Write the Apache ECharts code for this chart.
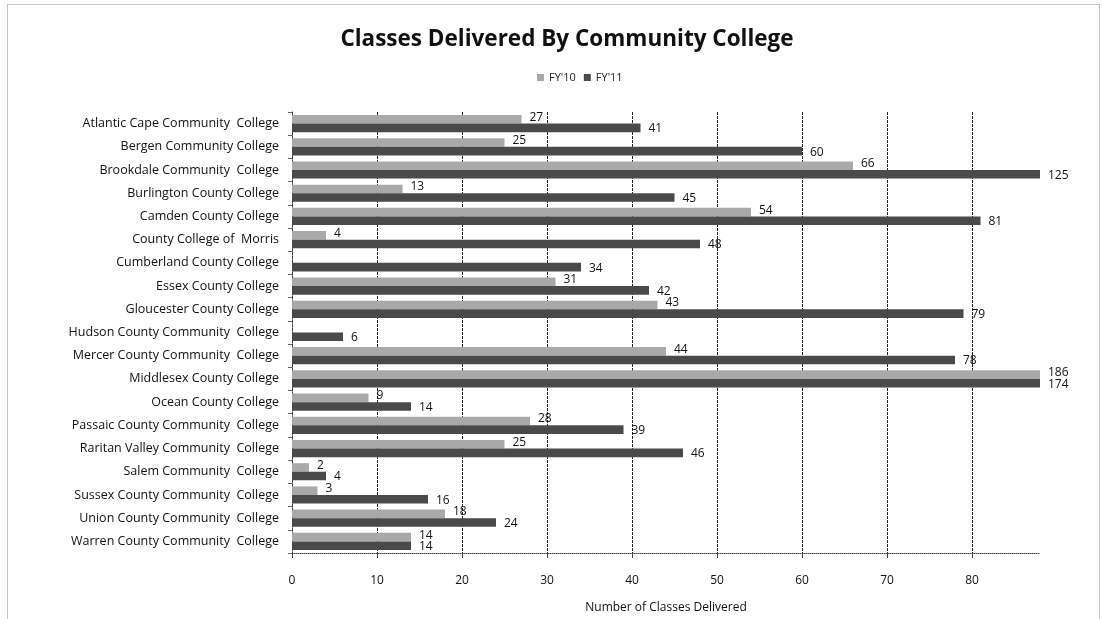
<!DOCTYPE html>
<html>
<head>
<meta charset="utf-8">
<script src="https://cdn.jsdelivr.net/npm/echarts@6/dist/echarts.min.js"></script>
<style>html,body{margin:0;padding:0;background:#fff}#c{width:1103px;height:619px}</style>
</head>
<body>
<div id="c"></div>
<script>
const categories = [
  'Atlantic Cape Community  College',
  'Bergen Community College',
  'Brookdale Community  College',
  'Burlington County College',
  'Camden County College',
  'County College of  Morris',
  'Cumberland County College',
  'Essex County College',
  'Gloucester County College',
  'Hudson County Community  College',
  'Mercer County Community  College',
  'Middlesex County College',
  'Ocean County College',
  'Passaic County Community  College',
  'Raritan Valley Community  College',
  'Salem Community  College',
  'Sussex County Community  College',
  'Union County Community  College',
  'Warren County Community  College'
];
const fy10 = [27, 25, 66, 13, 54, 4, null, 31, 43, null, 44, 186, 9, 28, 25, 2, 3, 18, 14];
const fy11 = [41, 60, 125, 45, 81, 48, 34, 42, 79, 6, 78, 174, 14, 39, 46, 4, 16, 24, 14];
const xTicks = { min: 0, max: 88, interval: 10 };

const FONT = 'Open Sans';
const chart = echarts.init(document.getElementById('c'));
chart.setOption({
  backgroundColor: '#fff',
  animation: false,
  title: {
    text: 'Classes Delivered By Community College',
    left: 562, top: 23, textAlign: 'center',
    textStyle: { fontFamily: FONT, fontSize: 22.5, fontWeight: 'bold', color: '#111' }
  },
  legend: {
    top: 67, left: 532,
    icon: 'rect',
    itemWidth: 7, itemHeight: 7, itemGap: 8,
    textStyle: { fontFamily: FONT, fontSize: 11, color: '#222' },
    data: ["FY'10", "FY'11"]
  },
  graphic: [{
    type: 'rect', shape: { x: 7.5, y: 4.5, width: 1092, height: 640 },
    style: { fill: 'none', stroke: '#888', lineWidth: 1, lineDash: [1, 1] }, silent: true
  }],
  grid: { left: 292, right: 63, top: 112, bottom: 66, containLabel: false },
  xAxis: {
    type: 'value', min: xTicks.min, max: xTicks.max, interval: xTicks.interval,
    name: 'Number of Classes Delivered', nameLocation: 'middle', nameGap: 49,
    nameTextStyle: { fontFamily: FONT, fontSize: 12, color: '#111' },
    axisLine: { show: true, lineStyle: { color: '#444', type: [1, 1] } },
    axisTick: { show: true, length: 5, lineStyle: { color: '#444' } },
    axisLabel: { fontFamily: FONT, fontSize: 12, color: '#111', margin: 22, showMaxLabel: false },
    splitLine: { show: true, showMaxLine: false, lineStyle: { color: '#222', width: 1, type: [3, 1] } }
  },
  yAxis: {
    type: 'category', data: categories, inverse: true,
    axisLine: { show: true, lineStyle: { color: '#444', type: [1, 1] } },
    axisTick: { show: true, length: 4, lineStyle: { color: '#666' } },
    axisLabel: { fontFamily: FONT, fontSize: 12.5, color: '#111', margin: 13 }
  },
  series: [
    {
      name: "FY'10", type: 'bar', data: fy10, barGap: '0%', barCategoryGap: '26%',
      itemStyle: { color: '#a9a9a9' },
      label: { show: true, position: 'right', distance: 8, offset: [0, -2],
        fontFamily: FONT, fontSize: 12, color: '#111' }
    },
    {
      name: "FY'11", type: 'bar', data: fy11, barGap: '0%', barCategoryGap: '26%',
      itemStyle: { color: '#4a4a4a' },
      label: { show: true, position: 'right', distance: 8, offset: [0, 1],
        fontFamily: FONT, fontSize: 12, color: '#111' }
    }
  ]
});
</script>
</body>
</html>
